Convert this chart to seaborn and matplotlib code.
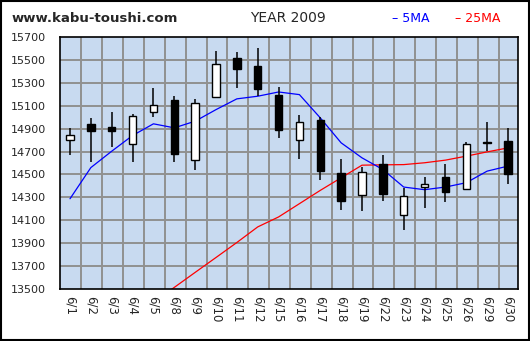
import matplotlib
matplotlib.use("Agg")
import matplotlib.pyplot as plt
import seaborn as sns
import pandas as pd
import numpy as np

dates = ["6/1", "6/2", "6/3", "6/4", "6/5", "6/8", "6/9", "6/10", "6/11", "6/12",
         "6/15", "6/16", "6/17", "6/18", "6/19", "6/22", "6/23", "6/24", "6/25",
         "6/26", "6/29", "6/30"]
opens = [14802, 14942, 14910, 14767, 15049, 15151, 14628, 15177, 15517, 15447,
         15197, 14802, 14979, 14509, 14323, 14593, 14149, 14393, 14474, 14372,
         14785, 14788]
highs = [14907, 14997, 15049, 15032, 15255, 15189, 15159, 15581, 15569, 15607,
         15267, 15023, 15003, 14639, 14564, 14674, 14384, 14474, 14587, 14785,
         14962, 14907]
lows = [14668, 14613, 14738, 14607, 14999, 14607, 14538, 15177, 15252, 15189,
        14817, 14634, 14448, 14190, 14181, 14268, 14013, 14207, 14256, 14372,
        14705, 14416]
closes = [14846, 14878, 14878, 15011, 15107, 14677, 15125, 15465, 15418, 15244,
          14886, 14959, 14529, 14268, 14520, 14329, 14314, 14419, 14346, 14767,
          14773, 14503]
ma5 = [14288, 14560, 14703, 14840, 14942, 14907, 14965, 15066, 15160, 15183,
       15220, 15197, 14994, 14776, 14645, 14543, 14390, 14367, 14390, 14428,
       14529, 14573]
ma25 = [np.nan, np.nan, np.nan, np.nan, 13385, 13514, 13645, 13775, 13906, 14042,
        14129, 14245, 14361, 14471, 14581, 14584, 14586, 14602, 14625, 14660,
        14697, 14732]
yticks = [13500, 13700, 13900, 14100, 14300, 14500, 14700, 14900, 15100, 15300,
          15500, 15700]

sns.set_style("white")
plt.rcParams["font.family"] = ["DejaVu Sans"]

fig = plt.figure(figsize=(5.3, 3.41), dpi=100)
fig.patch.set_facecolor("white")
ax = fig.add_axes([60 / 530, 1 - 289 / 341, 458 / 530, 252 / 341])
ax.set_facecolor("#C8DAF0")

df = pd.DataFrame({"i": np.arange(len(dates)), "open": opens, "high": highs,
                   "low": lows, "close": closes, "ma5": ma5, "ma25": ma25})

# grid
for v in yticks[1:-1]:
    ax.axhline(v, color="#909090", lw=1.4, zorder=1)
for k in range(len(dates) - 1):
    ax.axvline(k + 0.55, color="#909090", lw=1.4, zorder=1)

# moving averages
sns.lineplot(data=df, x="i", y="ma25", color="red", lw=0.9, ax=ax, zorder=2)
sns.lineplot(data=df, x="i", y="ma5", color="blue", lw=0.9, ax=ax, zorder=2)

# candles
ax.vlines(df["i"], df["low"], df["high"], color="black", lw=1.1, zorder=3)
up = df["close"] >= df["open"]
bottoms = np.minimum(df["open"], df["close"])
heights = np.abs(df["close"] - df["open"]).clip(lower=8)
ax.bar(df["i"][up], heights[up], bottom=bottoms[up], width=0.36,
       color="white", edgecolor="black", lw=1.0, zorder=4)
ax.bar(df["i"][~up], heights[~up], bottom=bottoms[~up], width=0.36,
       color="black", edgecolor="black", lw=1.0, zorder=4)

ax.set_xlim(-0.48, len(dates) - 0.52)
ax.set_ylim(13500, 15700)
ax.set_yticks(yticks)
ax.set_yticklabels([str(v) for v in yticks], fontsize=8)
ax.set_xticks(range(len(dates)))
ax.set_xticklabels(dates, rotation=-90, fontsize=8.5, va="top")
ax.tick_params(axis="both", length=0, pad=5)
ax.tick_params(axis="y", pad=10)
ax.set_xlabel("")
ax.set_ylabel("")
for s in ax.spines.values():
    s.set_color("black")
    s.set_linewidth(1.2)

fig.text(12 / 530, 1 - 19 / 341, "www.kabu-toushi.com", fontsize=9.5,
         fontweight="bold", va="center", ha="left")
fig.text(288 / 530, 1 - 18 / 341, "YEAR 2009", fontsize=10, va="center", ha="center")
fig.text(392 / 530, 1 - 18 / 341, "– 5MA", fontsize=9, color="blue", va="center", ha="left")
fig.text(455 / 530, 1 - 18 / 341, "– 25MA", fontsize=9, color="red", va="center", ha="left")

# outer border
fig.add_artist(plt.Rectangle((0.001, 0.002), 0.997, 0.996, transform=fig.transFigure,
                             fill=False, edgecolor="black", lw=1.5))

fig.savefig("out.png", dpi=100)
